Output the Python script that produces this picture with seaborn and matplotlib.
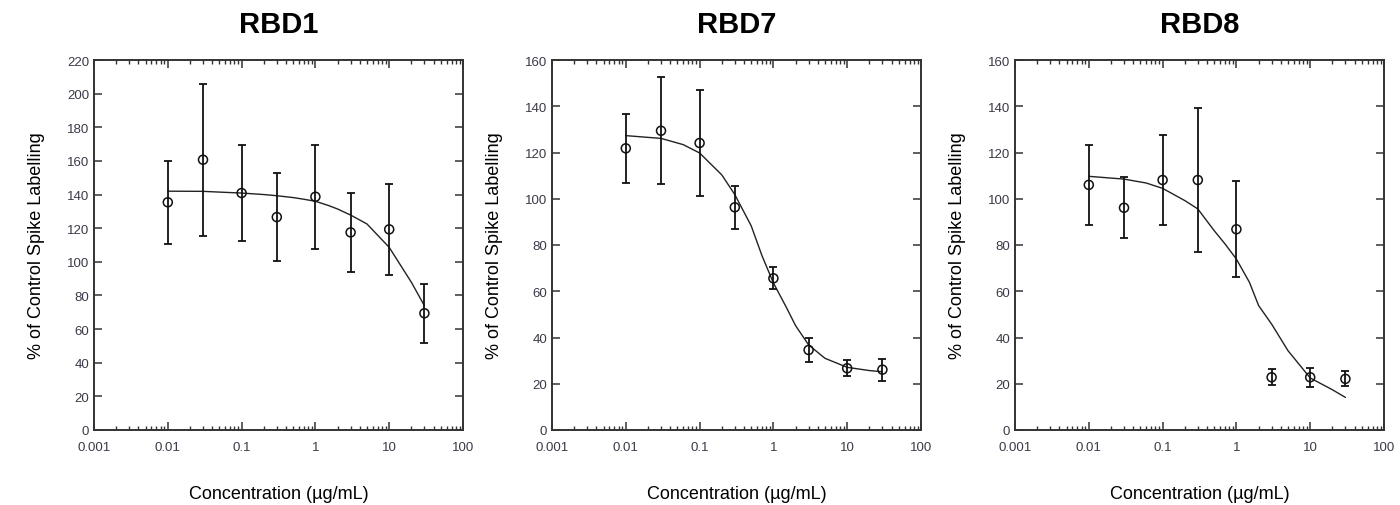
import numpy as np
import pandas as pd
import seaborn as sns
import matplotlib.pyplot as plt
from matplotlib.ticker import LogLocator, FixedLocator, NullFormatter

# Data
conc = [0.01, 0.03, 0.1, 0.3, 1, 3, 10, 30]

rbd1_mean = [135.4, 160.7, 140.9, 126.6, 138.7, 117.5, 119.3, 69.4]
rbd1_err = [24.7, 45.1, 28.4, 26.1, 31.0, 23.5, 27.2, 17.7]
rbd7_mean = [121.8, 129.4, 124.1, 96.3, 65.6, 34.6, 26.7, 26.1]
rbd7_err = [14.9, 23.1, 22.9, 9.4, 4.8, 5.3, 3.4, 4.7]
rbd8_mean = [106.0, 96.1, 108.1, 108.1, 86.8, 22.8, 22.8, 22.1]
rbd8_err = [17.2, 13.1, 19.6, 31.2, 20.7, 3.4, 4.0, 3.2]

# fitted curves
fit_x = [0.01, 0.03, 0.06, 0.1, 0.2, 0.3, 0.5, 0.7, 1, 1.5, 2, 3, 5, 10, 20, 30]
rbd1_fit = [142.0, 141.9, 141.3, 140.9, 140.0, 139.3, 138.2, 137.2, 136.0, 133.5, 131.4,
            127.8, 122.5, 108.6, 87.8, 73.9]
rbd7_fit = [127.3, 126.1, 123.4, 119.8, 110.3, 101.8, 88.3, 75.4, 63.6, 53.0, 45.1,
            36.8, 31.0, 27.1, 25.7, 25.2]
rbd8_fit = [109.7, 108.5, 106.8, 104.5, 99.2, 95.6, 86.2, 80.5, 73.9, 63.9, 53.8,
            45.8, 34.3, 22.5, 17.4, 14.1]

titles = ["RBD1", "RBD7", "RBD8"]
ymaxes = [220, 160, 160]
ysteps = [20, 20, 20]
xticks = [0.001, 0.01, 0.1, 1, 10, 100]
xticklabels = ["0.001", "0.01", "0.1", "1", "10", "100"]

sns.set_style("white")
plt.rcParams["font.family"] = ["Liberation Sans", "DejaVu Sans"]

fig = plt.figure(figsize=(14, 5.06), dpi=100)
lefts = [94 / 1400, 552 / 1400, 1015 / 1400]
axes = [fig.add_axes([l, 1 - 431 / 506, 369 / 1400, 370 / 506]) for l in lefts]

panels = [(rbd1_mean, rbd1_err, rbd1_fit), (rbd7_mean, rbd7_err, rbd7_fit),
          (rbd8_mean, rbd8_err, rbd8_fit)]

for ax, (mean, err, fit), title, ymax, ystep in zip(axes, panels, titles, ymaxes, ysteps):
    df_fit = pd.DataFrame({"x": fit_x, "y": fit})
    sns.lineplot(data=df_fit, x="x", y="y", ax=ax, color="#222222", linewidth=1.0)
    ax.errorbar(conc, mean, yerr=err, fmt="none", ecolor="#111111", elinewidth=1.3,
                capsize=3, capthick=1.3, zorder=3)
    df_pts = pd.DataFrame({"x": conc, "y": mean})
    sns.scatterplot(data=df_pts, x="x", y="y", ax=ax, marker="o", s=42,
                    facecolors="none", edgecolor="#111111", linewidth=1.1, zorder=4)

    ax.set_xscale("log")
    ax.set_xlim(0.001, 100)
    ax.set_ylim(0, ymax)
    ax.xaxis.set_major_locator(FixedLocator(xticks))
    ax.set_xticklabels(xticklabels)
    ax.xaxis.set_minor_locator(LogLocator(base=10, subs=np.arange(2, 10)))
    ax.xaxis.set_minor_formatter(NullFormatter())
    ax.set_yticks(np.arange(0, ymax + 1, ystep))

    ax.tick_params(which="both", direction="in", top=True, right=True, bottom=True, left=True,
                   colors="#333333", labelcolor="#3a3a48", labelsize=9.5)
    ax.tick_params(which="major", length=6, width=1.1)
    ax.tick_params(which="minor", length=3, width=1.0)
    ax.tick_params(axis="x", pad=8)
    for sp in ax.spines.values():
        sp.set_visible(True)
        sp.set_color("#333333")
        sp.set_linewidth(1.4)

    ax.set_title(title, fontsize=21, fontweight="bold", color="black", pad=20)
    ax.set_xlabel("Concentration (µg/mL)", fontsize=13, color="black", labelpad=23)
    ax.set_ylabel("% of Control Spike Labelling", fontsize=13, color="black", labelpad=16)

fig.savefig("out.png", dpi=100)
